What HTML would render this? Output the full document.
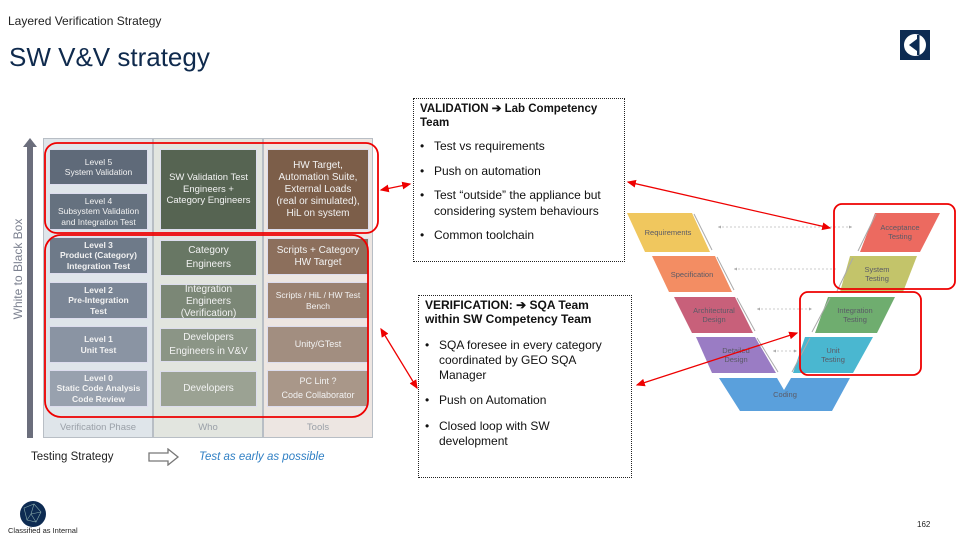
<!DOCTYPE html>
<html><head><meta charset="utf-8"><style>
*{margin:0;padding:0;box-sizing:border-box}
body{width:960px;height:540px;background:#fff;position:relative;overflow:hidden;font-family:"Liberation Sans",sans-serif}
.a{position:absolute}
.c{position:absolute;color:#f2f2f2;text-align:center;display:flex;align-items:center;justify-content:center;line-height:1.2;font-size:8.5px;border:1px solid #dde;}
.box{position:absolute;border:1.5px dotted #222;background:#fff;font-size:12px;color:#111;padding:2px 6px}
.box ul{list-style:none;margin-top:10px}
.box li{position:relative;padding-left:14px;margin-bottom:9px;line-height:1.3}
.box li:before{content:"•";position:absolute;left:0}
</style></head><body>
<div class="a" style="left:8px;top:14px;font-size:12px;color:#222">Layered Verification Strategy</div>
<div class="a" style="left:9px;top:42px;font-size:26px;color:#0f2a4d">SW V&amp;V strategy</div>
<svg class="a" style="left:900px;top:30px" width="30" height="30"><rect width="30" height="30" fill="#0d2b52"/><circle cx="15" cy="15" r="11" fill="#fff"/><path d="M9 15 L17 9 L17 21 Z" fill="#0d2b52"/><rect x="17" y="5" width="2.5" height="20" fill="#0d2b52"/></svg>

<div class="a" style="left:43px;top:138px;width:110px;height:300px;background:#dfe5ea;border:1px solid #b8bec5"></div>
<div class="a" style="left:153px;top:138px;width:110px;height:300px;background:#e2e5df;border:1px solid #b8bec5"></div>
<div class="a" style="left:263px;top:138px;width:110px;height:300px;background:#ede6e2;border:1px solid #b8bec5"></div>
<svg class="a" style="left:22px;top:138px" width="16" height="302"><polygon points="8,0 15,9 11,9 11,300 5,300 5,9 1,9" fill="#6b6e7c"/></svg>
<div class="a" style="left:-47px;top:262px;width:130px;transform:rotate(-90deg);font-size:12px;color:#7c8190;text-align:center">White to Black Box</div>

<div class="c" style="left:49px;top:149px;width:99px;height:36px;background:#5f6a79">Level 5<br>System Validation</div>
<div class="c" style="left:49px;top:193px;width:99px;height:37px;background:#65717f">Level 4<br>Subsystem Validation<br>and Integration Test</div>
<div class="c" style="left:49px;top:237px;width:99px;height:37px;background:#6e7a89;font-weight:bold">Level 3<br>Product (Category)<br>Integration Test</div>
<div class="c" style="left:49px;top:282px;width:99px;height:37px;background:#7b8696;font-weight:bold">Level 2<br>Pre-Integration<br>Test</div>
<div class="c" style="left:49px;top:326px;width:99px;height:37px;background:#8a94a3;font-weight:bold">Level 1<br>Unit Test</div>
<div class="c" style="left:49px;top:370px;width:99px;height:37px;background:#98a1ae;font-weight:bold">Level 0<br>Static Code Analysis<br>Code Review</div>

<div class="c" style="left:160px;top:149px;width:97px;height:81px;background:#566452;font-size:9.5px">SW Validation Test<br>Engineers +<br>Category Engineers</div>
<div class="c" style="left:160px;top:240px;width:97px;height:36px;background:#687764;font-size:10px;line-height:1.4">Category<br>Engineers</div>
<div class="c" style="left:160px;top:284px;width:97px;height:35px;background:#7b8776;font-size:10px">Integration<br>Engineers<br>(Verification)</div>
<div class="c" style="left:160px;top:328px;width:97px;height:34px;background:#8b9586;font-size:10px;line-height:1.4">Developers<br>Engineers in V&amp;V</div>
<div class="c" style="left:160px;top:371px;width:97px;height:36px;background:#9ba293;font-size:10px">Developers</div>

<div class="c" style="left:267px;top:149px;width:102px;height:81px;background:#7c5e49;font-size:10px">HW Target,<br>Automation Suite,<br>External Loads<br>(real or simulated),<br>HiL on system</div>
<div class="c" style="left:267px;top:238px;width:102px;height:37px;background:#8c6f5c;font-size:10px">Scripts + Category<br>HW Target</div>
<div class="c" style="left:267px;top:282px;width:102px;height:37px;background:#9a8170;font-size:8.5px">Scripts / HiL / HW Test<br>Bench</div>
<div class="c" style="left:267px;top:326px;width:102px;height:37px;background:#a28e80;font-size:9px">Unity/GTest</div>
<div class="c" style="left:267px;top:370px;width:102px;height:37px;background:#a99789;font-size:9px;line-height:1.5">PC Lint ?<br>Code Collaborator</div>
<div class="a" style="left:43px;top:422px;width:110px;text-align:center;font-size:9.5px;color:#9aa0a8">Verification Phase</div>
<div class="a" style="left:153px;top:422px;width:110px;text-align:center;font-size:9.5px;color:#9aa0a8">Who</div>
<div class="a" style="left:263px;top:422px;width:110px;text-align:center;font-size:9.5px;color:#9aa0a8">Tools</div>
<div class="a" style="left:31px;top:451px;font-size:11.5px;color:#222">Testing Strategy</div>
<svg class="a" style="left:148px;top:448px" width="32" height="18"><polygon points="1,5 20,5 20,1 30,9 20,17 20,13 1,13" fill="none" stroke="#777" stroke-width="1.3"/></svg>
<div class="a" style="left:199px;top:451px;font-size:11.5px;color:#2f7fc4;font-style:italic">Test as early as possible</div>

<div class="box" style="left:413px;top:98px;width:212px;height:164px"><b style="font-size:11.5px">VALIDATION ➔ Lab Competency Team</b>
<ul><li>Test vs requirements</li><li>Push on automation</li><li>Test “outside” the appliance but considering system behaviours</li><li>Common toolchain</li></ul></div>
<div class="box" style="left:418px;top:295px;width:214px;height:183px;padding-right:22px"><b>VERIFICATION: ➔ SQA Team within SW Competency Team</b>
<ul style="margin-top:12px"><li style="line-height:1.25;margin-bottom:10px">SQA foresee in every category coordinated by GEO SQA Manager</li><li style="margin-bottom:10px">Push on Automation</li><li>Closed loop with SW development</li></ul></div>

<svg class="a" style="left:0;top:0" width="960" height="540">
<defs><marker id="m" markerWidth="8" markerHeight="8" refX="6" refY="4" orient="auto-start-reverse"><path d="M0,1 L7,4 L0,7 Z" fill="#e00"/></marker>
<marker id="g" markerWidth="5" markerHeight="5" refX="4" refY="2.5" orient="auto-start-reverse"><path d="M0,0.5 L4,2.5 L0,4.5Z" fill="#aaa"/></marker></defs>
<g font-size="7.5" font-family="Liberation Sans" text-anchor="middle" fill="#5a5a66">
<polygon points="627,213 692,213 710,252 645,252" fill="#f0c75e"/><text x="668" y="235">Requirements</text>
<polygon points="652,256 715,256 732,292 669,292" fill="#f38d63"/><text x="692" y="277">Specification</text>
<polygon points="674,297 735,297 753,333 692,333" fill="#c8607a"/><text x="714" y="313">Architectural</text><text x="714" y="322">Design</text>
<polygon points="696,337 755,337 776,373 712,373" fill="#9a7cc4"/><text x="736" y="353">Detailed</text><text x="736" y="362">Design</text>
<polygon points="719,378 777,378 784,390 791,378 850,378 832,411 740,411" fill="#5aa0dc"/><text x="785" y="397">Coding</text>
<polygon points="805,337 873,337 853,373 793,373" fill="#4ab7d0"/><text x="833" y="353">Unit</text><text x="833" y="362">Testing</text>
<polygon points="828,297 895,297 877,333 815,333" fill="#6fad6f"/><text x="855" y="313">Integration</text><text x="855" y="322">Testing</text>
<polygon points="850,256 917,256 903,292 840,292" fill="#c3c46a"/><text x="877" y="272">System</text><text x="877" y="281">Testing</text>
<polygon points="875,213 940,213 920,252 860,252" fill="#ec6a60"/><text x="900" y="230">Acceptance</text><text x="900" y="239">Testing</text>
</g>
<g stroke="#aaa" stroke-width="1"><line x1="694" y1="214" x2="712" y2="250"/><line x1="717" y1="257" x2="734" y2="290"/><line x1="737" y1="298" x2="755" y2="331"/><line x1="757" y1="338" x2="778" y2="372"/>
<line x1="792" y1="372" x2="810" y2="338"/><line x1="812" y1="332" x2="830" y2="298"/><line x1="837" y1="291" x2="853" y2="258"/><line x1="858" y1="251" x2="876" y2="214"/></g>
<g stroke="#bbb" stroke-width="0.8" stroke-dasharray="2,2"><line x1="718" y1="227" x2="852" y2="227" marker-start="url(#g)" marker-end="url(#g)"/><line x1="734" y1="269" x2="836" y2="269" marker-start="url(#g)"/><line x1="757" y1="309" x2="812" y2="309" marker-start="url(#g)" marker-end="url(#g)"/><line x1="773" y1="351" x2="797" y2="351" marker-start="url(#g)" marker-end="url(#g)"/></g>
<g fill="none" stroke="#e00" stroke-width="1.8">
<rect x="45" y="143" width="333" height="90" rx="12"/>
<rect x="45" y="235" width="323" height="182" rx="16"/>
<rect x="834" y="204" width="121" height="85" rx="8"/>
<rect x="800" y="292" width="121" height="83" rx="8"/>
<line x1="381" y1="190" x2="410" y2="184" marker-start="url(#m)" marker-end="url(#m)" stroke-width="1.3"/>
<line x1="381" y1="329" x2="417" y2="388" marker-start="url(#m)" marker-end="url(#m)" stroke-width="1.3"/>
<line x1="628" y1="182" x2="830" y2="228" marker-start="url(#m)" marker-end="url(#m)" stroke-width="1.3"/>
<line x1="637" y1="385" x2="797" y2="333" marker-start="url(#m)" marker-end="url(#m)" stroke-width="1.3"/>
</g>
<g><circle cx="33" cy="514" r="13" fill="#0d2b52"/><g stroke="#8aa" stroke-width="0.6" fill="none"><path d="M24,508 L34,504 L41,512 L36,522 L27,520 Z M34,504 L31,514 L41,512 M31,514 L27,520 M31,514 L36,522"/></g></g>
</svg>
<div class="a" style="left:8px;top:526px;font-size:7.5px;color:#222">Classified as Internal</div>
<div class="a" style="left:917px;top:520px;font-size:8px;color:#222">162</div>
</body></html>
